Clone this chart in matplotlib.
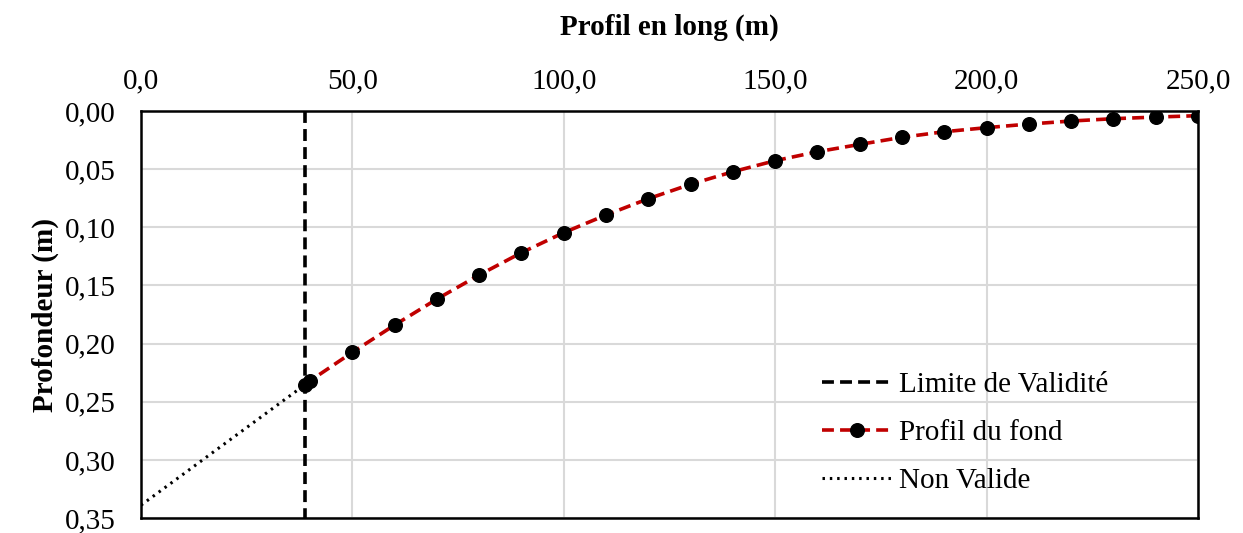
import matplotlib.pyplot as plt
from matplotlib.ticker import FuncFormatter

plt.rcParams["font.family"] = ["Liberation Serif", "DejaVu Serif"]

# profile points (distance m, depth m)
dist = [38.7, 40, 50, 60, 70, 80, 90, 100, 110, 120, 130, 140, 150,
        160, 170, 180, 190, 200, 210, 220, 230, 240, 250]
depth = [0.2356, 0.232, 0.2075, 0.184, 0.1617, 0.141, 0.1218, 0.1046,
         0.0894, 0.0754, 0.0630, 0.0522, 0.0427, 0.0350, 0.0287, 0.0226,
         0.0178, 0.0143, 0.0112, 0.0086, 0.0066, 0.0052, 0.0040]

# invalid part (extrapolated to the origin)
nv_dist = [0, 38.7]
nv_depth = [0.339, 0.2356]

# validity limit
limit_x = 38.7

fig = plt.figure(figsize=(12.43, 5.33), dpi=100)
ax = fig.add_axes([0.1134, 0.0281, 0.8504, 0.7636])

ax.plot([limit_x, limit_x], [0, 0.35], color="black", lw=2.6,
        dashes=(3.3, 1.7), label="Limite de Validité")
ax.plot(dist, depth, color="#C00000", lw=2.6, dashes=(3.3, 1.7),
        marker="o", markersize=9.8, markerfacecolor="black",
        markeredgecolor="black", label="Profil du fond")
ax.plot(nv_dist, nv_depth, color="black", lw=2.2, linestyle=(0, (0.8, 1.6)),
        label="Non Valide")

ax.set_xlim(0, 250)
ax.set_ylim(0.35, 0)
ax.set_xticks([0, 50, 100, 150, 200, 250])
ax.set_yticks([0, 0.05, 0.10, 0.15, 0.20, 0.25, 0.30, 0.35])
ax.xaxis.set_major_formatter(FuncFormatter(lambda v, p: f"{v:.1f}".replace(".", ",")))
ax.yaxis.set_major_formatter(FuncFormatter(lambda v, p: f"{v:.2f}".replace(".", ",")))
ax.xaxis.tick_top()
ax.xaxis.set_label_position("top")
ax.tick_params(length=0, labelsize=21)
ax.tick_params(axis="x", pad=12)
ax.tick_params(axis="y", pad=18)
ax.grid(True, color="#d9d9d9", lw=1.5)
ax.set_axisbelow(True)
for s in ax.spines.values():
    s.set_linewidth(1.8)
    s.set_color("black")

ax.set_xlabel("Profil en long (m)", fontsize=21, fontweight="bold", labelpad=24)
ax.set_ylabel("Profondeur (m)", fontsize=21, fontweight="bold", labelpad=4)

leg = ax.legend(loc="center left", bbox_to_anchor=(0.6613, 0.188),
                bbox_transform=fig.transFigure, frameon=False,
                fontsize=21, handlelength=2.4, handletextpad=0.25,
                labelspacing=0.75, borderpad=0, borderaxespad=0)

fig.savefig("out.png", dpi=100)
